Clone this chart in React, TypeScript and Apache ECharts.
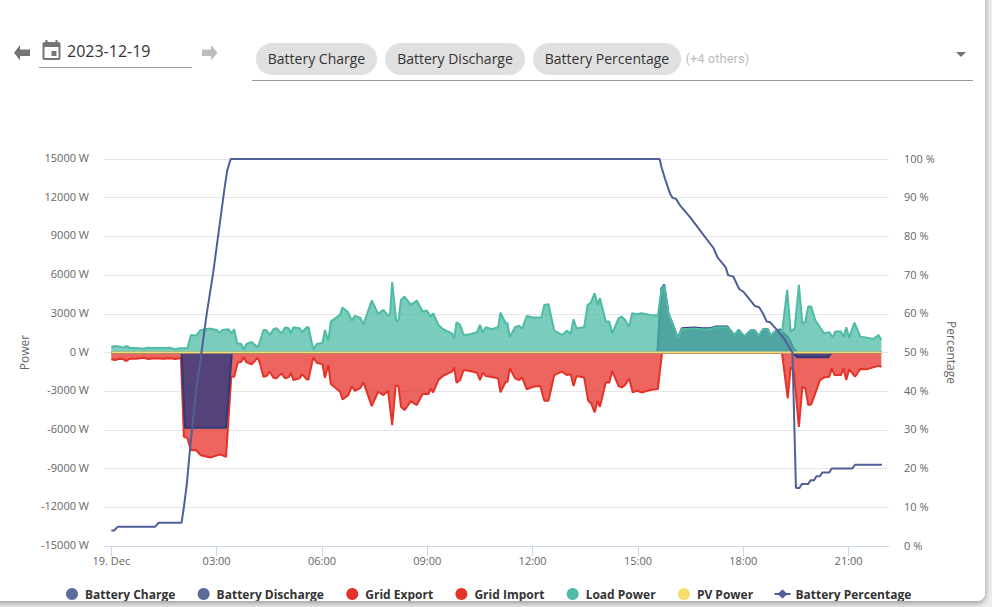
import React, { useEffect, useRef } from "react";
import * as echarts from "echarts";

const axisTickHours = [0, 3, 6, 9, 12, 15, 18, 21];
const axisMinMinutes = -12.5;
const axisMaxMinutes = 1329;
const seriesNames = ["Battery Charge", "Battery Discharge", "Grid Export", "Grid Import", "Load Power", "PV Power"];
const chips = ["Battery Charge", "Battery Discharge", "Battery Percentage"];

const chargeMinutes = [0, 120, 126, 196, 206, 1165, 1172, 1225, 1231, 1317];
const chargeWatts = [0, 0, -5840, -5840, 0, 0, -375, -375, 0, 0];

const dischargeMinutes = [0, 205, 933, 940, 945, 952, 963, 968, 975, 997, 1009, 1023, 1032, 1053, 1065, 1072, 1082, 1092, 1100, 1106, 1114, 1122, 1127, 1134, 1142, 1149, 1158, 1166, 1172, 1317];
const dischargeWatts = [0, 0, 0, 4950, 5270, 3043, 1748, 1101, 1878, 1930, 1880, 1880, 2007, 2007, 1334, 1748, 1230, 1696, 1696, 1282, 1800, 1800, 1282, 1619, 1800, 1489, 1101, 324, 0, 0];

const exportMinutes = [0, 1317];
const exportWatts = [0, 0];

const importMinutes = [0, 6, 15, 21, 25, 32, 43, 55, 63, 75, 89, 100, 109, 119, 124, 130, 136, 145, 153, 169, 185, 190, 196, 205, 210, 216, 222, 226, 231, 240, 250, 254, 260, 265, 271, 277, 282, 291, 297, 303, 307, 311, 322, 326, 334, 337, 345, 351, 361, 365, 371, 375, 391, 395, 405, 411, 416, 425, 431, 445, 456, 465, 473, 480, 486, 491, 495, 501, 512, 522, 532, 542, 546, 550, 559, 567, 582, 586, 590, 596, 602, 613, 625, 630, 635, 640, 650, 661, 665, 674, 677, 681, 690, 697, 702, 710, 721, 733, 740, 747, 757, 770, 779, 785, 790, 795, 808, 815, 820, 826, 831, 835, 845, 851, 856, 867, 872, 878, 885, 891, 898, 906, 921, 934, 941, 943, 1146, 1156, 1161, 1166, 1175, 1181, 1186, 1191, 1196, 1203, 1211, 1218, 1227, 1231, 1236, 1247, 1251, 1256, 1261, 1271, 1280, 1291, 1302, 1311, 1316];
const importWatts = [-531, -583, -479, -531, -660, -479, -479, -401, -505, -453, -479, -453, -505, -427, -6540, -6618, -7576, -7576, -7964, -8146, -7912, -7964, -8094, -1878, -1878, -790, -712, -375, -764, -919, -401, -842, -1878, -1826, -1489, -1955, -2007, -1619, -2007, -1930, -1567, -2137, -2007, -1670, -2085, -2085, -375, -790, -919, -1955, -971, -2448, -3043, -3639, -3302, -2603, -2966, -2784, -2318, -4157, -3043, -3302, -2966, -5633, -2525, -2655, -4209, -4468, -3768, -4079, -3225, -3225, -2784, -3095, -2137, -1800, -1489, -1152, -2344, -2137, -1360, -1437, -1567, -2137, -1567, -1826, -1904, -2007, -3095, -2266, -2266, -1230, -2007, -2137, -1930, -2862, -2655, -2603, -3743, -3743, -1748, -1489, -1748, -1670, -2603, -1826, -1930, -3743, -3950, -4649, -3743, -4209, -2318, -2318, -1437, -2603, -2707, -2525, -2007, -3095, -2966, -3095, -2914, -2836, -65, 0, 0, -3561, -1152, -1360, -5763, -2655, -2784, -4079, -4028, -3173, -2137, -1930, -1878, -1230, -1748, -1748, -1230, -2137, -1282, -1878, -1282, -1308, -1152, -1036, -1100];

const loadMinutes = [0, 6, 15, 21, 25, 32, 43, 55, 63, 75, 89, 100, 109, 117, 130, 136, 145, 152, 160, 169, 180, 185, 190, 200, 206, 210, 215, 222, 226, 231, 240, 250, 254, 260, 265, 271, 277, 282, 291, 297, 303, 307, 311, 322, 326, 334, 337, 345, 351, 361, 365, 371, 375, 391, 395, 405, 411, 416, 425, 431, 445, 456, 465, 473, 476, 480, 487, 491, 495, 501, 512, 522, 532, 539, 546, 550, 559, 567, 582, 586, 590, 596, 602, 613, 625, 630, 635, 640, 650, 661, 665, 674, 677, 681, 690, 697, 702, 710, 721, 735, 740, 747, 757, 770, 779, 785, 790, 795, 808, 814, 819, 826, 831, 835, 845, 851, 856, 867, 872, 878, 885, 890, 898, 906, 921, 934, 940, 945, 952, 963, 968, 975, 997, 1009, 1023, 1032, 1053, 1065, 1072, 1082, 1092, 1100, 1106, 1114, 1122, 1127, 1134, 1142, 1146, 1155, 1161, 1168, 1175, 1181, 1186, 1191, 1196, 1203, 1211, 1218, 1227, 1233, 1237, 1247, 1252, 1256, 1261, 1270, 1280, 1291, 1302, 1311, 1316];
const loadWatts = [427, 505, 453, 376, 505, 350, 350, 298, 376, 350, 350, 376, 246, 324, 324, 1360, 1308, 1722, 1800, 1852, 1748, 1541, 1748, 1800, 1489, 1800, 712, 660, 246, 660, 816, 401, 842, 1748, 1722, 1360, 1800, 1878, 1489, 1930, 1878, 1489, 1955, 1878, 1567, 1955, 1955, 246, 660, 764, 1748, 920, 2396, 2914, 3484, 3095, 2473, 2836, 2707, 2188, 4027, 2991, 3302, 2862, 2862, 5452, 2396, 2525, 4079, 4338, 3691, 4027, 3173, 3250, 2784, 3043, 2137, 1800, 1489, 1101, 2344, 2137, 1360, 1412, 1567, 2137, 1567, 1955, 1800, 1955, 3095, 2266, 2266, 1178, 1955, 2085, 1826, 2836, 2707, 2707, 3691, 3743, 1696, 1360, 1696, 1437, 2577, 1878, 1955, 3691, 3820, 4597, 3691, 4209, 2396, 2396, 1489, 2655, 2784, 2525, 2007, 3043, 2966, 3043, 2914, 2862, 4856, 5193, 3043, 1748, 1101, 1800, 1852, 1800, 1800, 1955, 1955, 1334, 1748, 1230, 1696, 1696, 1282, 1800, 1800, 1282, 1619, 1748, 1489, 4856, 1619, 1878, 5245, 2214, 2396, 3561, 3561, 2525, 1955, 1489, 1567, 1178, 1619, 1619, 1230, 1955, 1152, 2318, 1230, 1152, 1049, 1360, 971];

const pvMinutes = [0, 1317];
const pvWatts = [0, 0];

const percentMinutes = [0, 5, 11, 75, 81, 120, 124, 129, 134.5, 144, 154, 163, 174, 186, 194, 198, 204, 937, 940, 946, 955, 959, 965, 972, 989, 1009, 1029, 1036, 1050, 1054, 1063, 1073, 1080, 1100, 1107, 1114, 1120, 1126, 1138, 1150, 1164, 1170, 1176, 1180, 1191, 1195, 1201, 1205, 1211, 1215, 1227, 1231, 1266, 1271, 1317];
const percentValues = [4, 4, 5, 5, 6, 6, 10, 16, 25, 39, 50, 60, 70.5, 84, 93, 97, 100, 100, 98, 95, 91, 90, 89.7, 88, 85, 81, 77, 74.6, 72, 70, 69.6, 66.4, 65.7, 62, 61.7, 60, 58, 57.8, 55.8, 53.5, 50, 15, 15, 16, 16, 17, 17, 18, 18, 19, 19, 20, 20, 21, 21];

const zip = (minutes: number[], values: number[]) => minutes.map((m, i) => [m, values[i]]);

const FONT = "'Open Sans', sans-serif";
const RED = "#e53228";
const TEAL = "#4ebba5";
const NAVY = "#2e3a7e";

function areaSeries(name: string, data: number[][], itemColor: string, color: string, opacity: number, z: number) {
  return {
    name,
    type: "line",
    data,
    z,
    showSymbol: false,
    symbol: "circle",
    silent: true,
    itemStyle: { color: itemColor },
    lineStyle: { color, width: 2 },
    areaStyle: { color, opacity },
  };
}

echarts.graphic.registerShape(
  "calendarIcon",
  echarts.graphic.extendPath(
    "M17 12h-5v5h5v-5zM16 1v2H8V1H6v2H5c-1.11 0-1.99.9-1.99 2L3 19c0 1.1.89 2 2 2h14c1.1 0 2-.9 2-2V5c0-1.1-.9-2-2-2h-1V1h-2zm3 18H5V8h14v11z",
    {}
  )
);

const chipBoxes = [
  [256, 121],
  [385, 140],
  [533, 148],
];

export default function App() {
  const ref = useRef<HTMLDivElement>(null);
  useEffect(() => {
    const chart = echarts.init(ref.current!, undefined, { renderer: "svg" });
    const tickMinutes = axisTickHours.map((h) => h * 60);
    const option: any = {
      animation: false,
      backgroundColor: "#ffffff",
      textStyle: { fontFamily: FONT },
      grid: { left: 104, right: 103, top: 159, bottom: 61, containLabel: false },
      legend: [
        {
          left: 66,
          top: 588,
          data: seriesNames,
          icon: "circle",
          itemWidth: 12,
          itemHeight: 12,
          itemGap: 22.3,
          selectedMode: false,
          padding: 0,
          textStyle: { fontFamily: FONT, fontSize: 12, fontWeight: "bold", color: "#333333", padding: [0, 0, 0, 2] },
        },
        {
          left: 773.5,
          top: 588,
          data: ["Battery Percentage"],
          itemWidth: 16,
          itemHeight: 12,
          selectedMode: false,
          padding: 0,
          textStyle: { fontFamily: FONT, fontSize: 12, fontWeight: "bold", color: "#333333" },
        },
      ],
      xAxis: {
        type: "value",
        min: axisMinMinutes,
        max: axisMaxMinutes,
        splitLine: { show: false },
        axisLine: { onZero: false, lineStyle: { color: "#ccd6eb", width: 1 } },
        axisTick: {
          show: true,
          length: 10,
          lineStyle: { color: "#ccd6eb" },
          customValues: tickMinutes,
        },
        axisLabel: {
          color: "#666666",
          fontSize: 11,
          fontFamily: FONT,
          margin: 9,
          customValues: tickMinutes,
          formatter: (v: number) => {
            const h = Math.round(v / 60);
            return h === 0 ? "19. Dec" : `${String(h).padStart(2, "0")}:00`;
          },
        },
      },
      yAxis: [
        {
          type: "value",
          min: -15000,
          max: 15000,
          interval: 3000,
          name: "Power",
          nameLocation: "middle",
          nameGap: 73,
          nameRotate: 90,
          nameTextStyle: { color: "#666666", fontSize: 12, fontFamily: FONT },
          axisLine: { show: false },
          axisTick: { show: false },
          axisLabel: {
            color: "#666666",
            fontSize: 11,
            fontFamily: FONT,
            margin: 15,
            formatter: (v: number) => `{t|${v} W}`,
            rich: { t: { color: "#666666", fontSize: 11, fontFamily: FONT, padding: [0, 0, 3, 0] } },
          },
          splitLine: { lineStyle: { color: "#e6e6e6", width: 1 } },
        },
        {
          type: "value",
          min: 0,
          max: 100,
          interval: 10,
          position: "right",
          name: "Percentage",
          nameLocation: "middle",
          nameGap: 56,
          nameRotate: -90,
          nameTextStyle: { color: "#666666", fontSize: 12, fontFamily: FONT },
          axisLine: { show: false },
          axisTick: { show: false },
          axisLabel: {
            color: "#666666",
            fontSize: 11,
            fontFamily: FONT,
            margin: 15,
            formatter: (v: number) => `{t|${v} %}`,
            rich: { t: { color: "#666666", fontSize: 11, fontFamily: FONT, padding: [0, 0, 2, 0] } },
          },
          splitLine: { show: false },
        },
      ],
      series: [
        areaSeries("Battery Charge", zip(chargeMinutes, chargeWatts), "#5b6b9c", NAVY, 0.8, 3),
        areaSeries("Battery Discharge", zip(dischargeMinutes, dischargeWatts), "#5b6b9c", NAVY, 0.8, 3),
        areaSeries("Grid Export", zip(exportMinutes, exportWatts), RED, RED, 0.75, 2),
        areaSeries("Grid Import", zip(importMinutes, importWatts), RED, RED, 0.75, 2),
        areaSeries("Load Power", zip(loadMinutes, loadWatts), TEAL, TEAL, 0.75, 4),
        areaSeries("PV Power", zip(pvMinutes, pvWatts), "#f7dc6f", "#f7dc6f", 0.75, 5),
        {
          name: "Battery Percentage",
          type: "line",
          yAxisIndex: 1,
          data: zip(percentMinutes, percentValues),
          z: 6,
          showSymbol: false,
          symbol: "diamond",
          symbolSize: 8,
          silent: true,
          itemStyle: { color: "#4f5f98" },
          lineStyle: { color: "#4f5f98", width: 2 },
        },
      ],
      graphic: [
        { type: "polygon", shape: { points: [[14, 52.8], [20, 45], [20, 49.4], [30, 49.4], [30, 56], [20, 56], [20, 60.6]] }, style: { fill: "#757575" } },
        { type: "polygon", shape: { points: [[217.5, 52.8], [211, 45], [211, 49.4], [202, 49.4], [202, 56], [211, 56], [211, 60.6]] }, style: { fill: "#bdbdbd" } },
        { type: "calendarIcon", x: 39.5, y: 39, style: { fill: "#757575" } },
        { type: "text", x: 67, y: 51, style: { text: "2023-12-19", fontFamily: FONT, fontSize: 16, fill: "#333333", verticalAlign: "middle" } },
        { type: "rect", shape: { x: 39, y: 67, width: 153, height: 1 }, style: { fill: "#999999" } },
        ...chipBoxes.map(([x, width]) => ({
          type: "rect",
          shape: { x, y: 43, width, height: 32, r: 16 },
          style: { fill: "#e0e0e0" },
        })),
        ...chips.map((text, i) => ({
          type: "text",
          x: chipBoxes[i][0] + chipBoxes[i][1] / 2,
          y: 58,
          style: { text, fontFamily: FONT, fontSize: 14, fill: "#333333", align: "center", verticalAlign: "middle" },
        })),
        { type: "text", x: 685.5, y: 58.5, style: { text: "(+4 others)", fontFamily: "Roboto, sans-serif", fontSize: 13, fill: "#bbbbbb", verticalAlign: "middle" } },
        { type: "rect", shape: { x: 252, y: 80, width: 721, height: 1 }, style: { fill: "#999999" } },
        { type: "polygon", shape: { points: [[956, 52], [966, 52], [961, 57]] }, style: { fill: "#757575" } },
      ],
    };
    chart.setOption(option);
    return () => chart.dispose();
  }, []);

  return (
    <div style={{ position: "fixed", left: 0, top: 0, width: 992, height: 607, overflow: "hidden", background: "#eeeeee" }}>
      <div
        style={{
          position: "absolute",
          left: -10,
          top: -10,
          width: 995,
          height: 611,
          overflow: "hidden",
          background: "#ffffff",
          borderRadius: 8,
          boxShadow: "0 2px 6px rgba(0,0,0,0.4)",
        }}
      >
        <div ref={ref} style={{ position: "absolute", left: 10, top: 10, width: 992, height: 607 }} />
      </div>
    </div>
  );
}
